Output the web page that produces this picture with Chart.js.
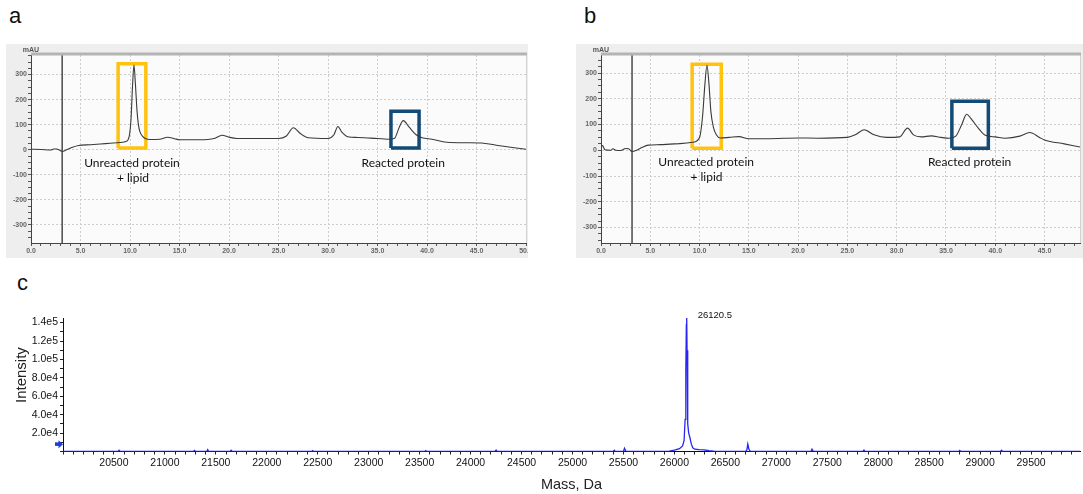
<!DOCTYPE html>
<html><head><meta charset="utf-8">
<script src="https://cdn.jsdelivr.net/npm/chart.js@4.4.1/dist/chart.umd.min.js"></script>
<style>
html,body{margin:0;padding:0;background:#fff;width:1083px;height:494px;overflow:hidden;position:relative;font-family:'Liberation Sans',Arial,sans-serif;}
.panel{position:absolute;overflow:hidden;}
.panel canvas{display:block;}
.frame{background:#eeeeee;}
.letter{position:absolute;font-size:22px;line-height:22px;color:#111;font-family:'Liberation Sans',Arial,sans-serif;}
</style></head><body>
<div class="letter" style="left:9px;top:5px">a</div>
<div class="letter" style="left:584px;top:5px">b</div>
<div class="letter" style="left:17px;top:272px">c</div>
<div class="panel frame" style="left:6px;top:44px;width:522px;height:214px"><canvas id="ca" width="522" height="214"></canvas></div>
<div class="panel frame" style="left:576px;top:44px;width:507px;height:214px"><canvas id="cb" width="507" height="214"></canvas></div>
<div class="panel" style="left:0;top:300px;width:1083px;height:194px"><canvas id="cc" width="1083" height="194"></canvas></div>
<script>
// ---------- DATA ----------
// Panel a: HPLC chromatogram (retention time, min / absorbance, mAU)
const timeA = [0, 1, 2, 2.3, 2.6, 2.9, 3.15, 3.6, 4.2, 4.8, 6, 7, 8, 9, 9.6, 9.9, 10.1, 10.25, 10.4, 10.55, 10.7, 10.85, 11.0, 11.3, 11.6, 12, 13, 13.8, 14.5, 15, 17, 18.5, 19.3, 20, 20.8, 22, 25, 25.8, 26.5, 27.2, 28, 30, 30.6, 31, 31.4, 32, 33, 34, 35, 36, 36.7, 37.2, 37.6, 38.2, 38.9, 39.5, 40.5, 42, 44, 45.5, 47, 50];
const mAU_A  = [2, 1, -1, 3, 3, -2, -7, 0, 10, 17, 20, 23, 26, 29, 33, 50, 120, 250, 338, 260, 160, 100, 72, 52, 44, 41, 42, 50, 44, 40, 40, 45, 58, 50, 45, 45, 45, 55, 88, 65, 48, 45, 60, 93, 70, 52, 49, 47, 45, 42, 45, 90, 116, 90, 60, 48, 42, 30, 28, 27, 18, 2];
// Panel b
const timeB = [0, 0.15, 0.4, 1, 1.2, 1.5, 2, 2.5, 2.8, 3.15, 3.6, 4.2, 4.8, 6, 8, 9.3, 10.0, 10.3, 10.55, 10.75, 10.95, 11.15, 11.4, 11.7, 12.1, 13, 14, 15, 17, 20, 22, 25, 25.8, 26.7, 27.7, 29, 30.3, 31.1, 31.7, 32.5, 33.5, 34.5, 35.3, 36, 36.6, 37.1, 37.6, 38.3, 39, 40, 41, 42.5, 43.5, 44.5, 45, 47, 48.6];
const mAU_B  = [18, 18, 2, 0, 6, 0, -1, 7, 6, -5, 0, 12, 20, 22, 26, 31, 50, 130, 260, 330, 260, 150, 90, 60, 48, 50, 53, 45, 45, 48, 47, 50, 60, 80, 60, 50, 52, 86, 60, 52, 56, 50, 47, 55, 100, 140, 120, 85, 58, 52, 47, 55, 69, 50, 40, 25, 13];
// injection marker (min)
const injectionA = 3.15, injectionB = 3.15;
// highlight boxes [t0, t1, v0, v1]
const unreactedBoxA = [8.8, 11.6, 7, 343];
const reactedBoxA   = [36.36, 39.2, 7, 154];
const unreactedBoxB = [9.25, 12.2, 8, 334];
const reactedBoxB   = [35.6, 39.3, 8, 190];
// axis ranges and ticks
const timeRangeA = [0, 50],   mAURangeA = [-372, 378];
const timeRangeB = [0, 48.6], mAURangeB = [-360, 370];
const timeTickStep = 1, timeLabelStep = 5;
const mAUTickStep = 25, mAULabelStep = 100;

// Panel c: deconvoluted mass spectrum
const massC = [20000,
  20540, 20550, 20560,
  21280, 21290, 21300,
  21410, 21420, 21430,
  21640, 21650, 21660,
  22440, 22450, 22460,
  23550, 23560, 23570,
  24240, 24250, 24260,
  25400, 25410, 25420,
  25500, 25510, 25525,
  25800, 25950, 26000, 26050, 26080, 26095, 26105, 26112, 26117, 26120.5, 26124, 26128, 26133, 26140, 26150, 26158, 26166, 26180, 26200, 26240, 26290, 26340, 26400,
  26700, 26712, 26720, 26730, 26745,
  27340, 27350, 27365,
  27850, 27860, 27870,
  28790, 28800, 28810,
  29200, 29210, 29220,
  29980];
const intensityC = [0,
  0, 1400, 0,
  0, 1200, 0,
  0, 2000, 0,
  0, 1300, 0,
  0, 900, 0,
  0, 1000, 0,
  0, 1500, 0,
  0, 1400, 0,
  0, 3500, 0,
  0, 400, 1500, 3000, 6000, 12000, 35000, 90000, 138000, 146000, 110000, 48000, 30000, 20000, 16000, 12000, 8000, 4000, 2500, 2000, 1800, 800, 0,
  0, 2000, 8000, 3000, 0,
  0, 2500, 0,
  0, 1500, 0,
  0, 1200, 0,
  0, 1300, 0,
  0];
const peakLabelC = {mass: 26120.5, intensity: 146000, text: '26120.5'};
const arrowMarkerC = [20000, 8000];
const massRangeC = [20000, 29980], intensityRangeC = [0, 145000];
const massTickStep = 100, massLabelStep = 500;
const intensityTickStep = 10000, intensityLabelStep = 20000;

// ---------- HELPERS ----------
Chart.defaults.font.family = "'Liberation Sans', Arial, sans-serif";
Chart.defaults.animation = false;
const pts = (xs, ys) => xs.map((v, i) => ({x: v, y: ys[i]}));
const rect = b => [{x:b[0],y:b[2]},{x:b[1],y:b[2]},{x:b[1],y:b[3]},{x:b[0],y:b[3]},{x:b[0],y:b[2]}];
const YELLOW = '#FFC20E', NAVY = '#134B76';
const isMult = (v, m) => Math.abs(v / m - Math.round(v / m)) < 1e-6;
function tickList(lo, hi, step) {
  const out = [];
  for (let k = Math.ceil(lo / step - 1e-9); k * step <= hi + 1e-9; k++) out.push({value: Math.round(k * step * 1000) / 1000});
  return out;
}
const setTicks = (lo, hi, step) => s => { s.ticks = tickList(lo, hi, step); };

const framePlugin = {
  id: 'frame',
  beforeDraw(chart, args, opts) {
    if (!opts.bg) return;
    const {ctx, chartArea: a} = chart;
    ctx.save(); ctx.fillStyle = opts.bg;
    ctx.fillRect(a.left, a.top, a.right - a.left, a.bottom - a.top);
    ctx.restore();
  },
  afterDraw(chart, args, opts) {
    if (!opts.topBar) return;
    const {ctx, chartArea: a} = chart;
    ctx.save();
    ctx.strokeStyle = '#d2d2d2'; ctx.lineWidth = 1;
    ctx.beginPath(); ctx.moveTo(a.right + 0.5, a.top); ctx.lineTo(a.right + 0.5, a.bottom); ctx.stroke();
    ctx.strokeStyle = opts.topBar; ctx.lineWidth = 3;
    ctx.beginPath(); ctx.moveTo(a.left, a.top - 1); ctx.lineTo(a.right + 1, a.top - 1); ctx.stroke();
    ctx.restore();
  }
};
const notesPlugin = {
  id: 'notes',
  afterDatasetsDraw(chart, args, opts) {
    const {ctx, scales: {x, y}} = chart;
    (opts.items || []).forEach(n => {
      ctx.save();
      ctx.font = n.font; ctx.fillStyle = n.color || '#111';
      ctx.textAlign = n.align || 'center'; ctx.textBaseline = 'middle';
      const px = (n.absX !== undefined ? n.absX : x.getPixelForValue(n.x)) + (n.dx || 0);
      const py = y.getPixelForValue(n.y) + (n.dy || 0);
      ctx.translate(px, py);
      if (n.rot) ctx.rotate(n.rot);
      ctx.fillText(n.text, 0, 0);
      ctx.restore();
    });
    // arrow markers (drawn at data coordinates, offset left of the axis)
    (opts.arrows || []).forEach(m => {
      const px = x.getPixelForValue(m.x) + m.dx, py = y.getPixelForValue(m.y);
      ctx.save(); ctx.fillStyle = m.color;
      ctx.fillRect(px - 5, py - 1.8, 4, 3.6);
      ctx.beginPath(); ctx.moveTo(px - 1.5, py - 4); ctx.lineTo(px + 3, py); ctx.lineTo(px - 1.5, py + 4); ctx.closePath(); ctx.fill();
      ctx.restore();
    });
  }
};
const noPad = s => { s.paddingLeft = 0; s.paddingRight = 0; };

function chromChart(id, time, mau, inj, boxU, boxR, xr, yr, padRight, notes) {
  const tickFont = {size: 7, weight: 'bold', family: "'Liberation Sans', Arial, sans-serif"};
  return new Chart(document.getElementById(id), {
    type: 'line',
    data: {datasets: [
      {data: pts(time, mau), borderColor: '#3a3a3a', borderWidth: 1.1, pointRadius: 0, cubicInterpolationMode: 'monotone'},
      {data: [{x: inj, y: yr[0]}, {x: inj, y: yr[1]}], borderColor: '#555', borderWidth: 1.6, pointRadius: 0},
      {data: rect(boxU), borderColor: YELLOW, borderWidth: 3.5, pointRadius: 0, borderJoinStyle: 'miter', tension: 0},
      {data: rect(boxR), borderColor: NAVY, borderWidth: 3.5, pointRadius: 0, borderJoinStyle: 'miter', tension: 0}
    ]},
    options: {
      responsive: false, animation: false, devicePixelRatio: 1, events: [],
      layout: {padding: {left: 0, top: 11, right: padRight, bottom: 0}},
      plugins: {legend: {display: false}, tooltip: {enabled: false},
        frame: {bg: '#fbfbfb', topBar: '#b4b4b4'}, notes: {items: notes}},
      scales: {
        x: {type: 'linear', min: xr[0], max: xr[1], afterFit: s => { s.height = 15; noPad(s); },
          afterBuildTicks: setTicks(xr[0], xr[1], timeTickStep),
          ticks: {autoSkip: false, maxRotation: 0, minRotation: 0, padding: 1, font: tickFont, color: '#666',
            callback: v => isMult(v, timeLabelStep) ? v.toFixed(1) : ''},
          grid: {color: c => (c.tick && isMult(c.tick.value, timeLabelStep) && c.tick.value > xr[0]) ? '#cdcdcd' : 'rgba(0,0,0,0)',
            tickColor: '#555', tickLength: 3, lineWidth: 1},
          border: {color: '#444', width: 1, dash: [2, 2]}},
        y: {min: yr[0], max: yr[1], afterFit: s => { s.width = 25; },
          afterBuildTicks: setTicks(yr[0], yr[1], mAUTickStep),
          ticks: {autoSkip: false, padding: 1, font: tickFont, color: '#666',
            callback: v => isMult(v, mAULabelStep) ? String(Math.round(v)) : ''},
          grid: {color: c => (c.tick && isMult(c.tick.value, mAULabelStep)) ? '#cdcdcd' : 'rgba(0,0,0,0)',
            tickColor: '#555', tickLength: 3, lineWidth: 1},
          border: {color: '#444', width: 1, dash: [2, 2]}}
      }
    },
    plugins: [framePlugin, notesPlugin]
  });
}

const noteFont = '12px Lato';
chromChart('ca', timeA, mAU_A, injectionA, unreactedBoxA, reactedBoxA, timeRangeA, mAURangeA, 2, [
  {text: 'mAU', x: 0, y: mAURangeA[1], dy: -5, font: "bold 7px 'Liberation Sans'", color: '#555'},
  {text: 'Unreacted protein', x: 10.2, y: -53, font: noteFont},
  {text: '+ lipid', x: 10.3, y: -113, font: noteFont},
  {text: 'Reacted protein', x: 37.6, y: -53, font: noteFont}
]);
chromChart('cb', timeB, mAU_B, injectionB, unreactedBoxB, reactedBoxB, timeRangeB, mAURangeB, 3, [
  {text: 'mAU', x: 0, y: mAURangeB[1], dy: -5, font: "bold 7px 'Liberation Sans'", color: '#555'},
  {text: 'Unreacted protein', x: 10.67, y: -47, font: noteFont},
  {text: '+ lipid', x: 10.7, y: -105, font: noteFont},
  {text: 'Reacted protein', x: 37.4, y: -47, font: noteFont}
]);

new Chart(document.getElementById('cc'), {
  type: 'line',
  data: {datasets: [
    {data: pts(massC, intensityC), borderColor: '#2626f5', borderWidth: 1.3, pointRadius: 0, tension: 0}
  ]},
  options: {
    responsive: false, animation: false, devicePixelRatio: 1, events: [],
    layout: {padding: {left: 0, top: 18, right: 3, bottom: 0}},
    plugins: {legend: {display: false}, tooltip: {enabled: false},
      notes: {
        items: [
          {text: peakLabelC.text, x: peakLabelC.mass, y: peakLabelC.intensity, dx: 11, dy: -2, align: 'left', font: "9.5px 'Liberation Sans'", color: '#111'},
          {text: 'Intensity', absX: 22, y: 83000, rot: -Math.PI / 2, font: "15px 'Liberation Sans'", color: '#222'}
        ],
        arrows: [{x: arrowMarkerC[0], y: arrowMarkerC[1], dx: -3, color: '#1f3fd0'}]
      }},
    scales: {
      x: {type: 'linear', min: massRangeC[0], max: massRangeC[1], afterFit: s => { s.height = 42.5; noPad(s); },
        afterBuildTicks: setTicks(massRangeC[0], massRangeC[1], massTickStep),
        title: {display: true, text: 'Mass, Da', font: {size: 14.5}, color: '#222', padding: {top: 0, bottom: 0}},
        ticks: {autoSkip: false, maxRotation: 0, minRotation: 0, padding: 2, font: {size: 10.5}, color: '#111',
          callback: v => (isMult(v, massLabelStep) && v > massRangeC[0]) ? String(v) : ''},
        grid: {drawOnChartArea: false, tickColor: '#222', tickLength: 3},
        border: {color: '#111', width: 1}},
      y: {min: intensityRangeC[0], max: intensityRangeC[1], afterFit: s => { s.width = 63; },
        afterBuildTicks: setTicks(intensityRangeC[0], intensityRangeC[1], intensityTickStep),
        ticks: {autoSkip: false, padding: 2, font: {size: 10.5}, color: '#111',
          callback: v => (v > 0 && isMult(v, intensityLabelStep)) ? v.toExponential(1).replace('e+', 'e') : ''},
        grid: {drawOnChartArea: false, tickColor: '#222', tickLength: 3},
        border: {color: '#111', width: 1}}
    }
  },
  plugins: [notesPlugin]
});
</script>
</body></html>
